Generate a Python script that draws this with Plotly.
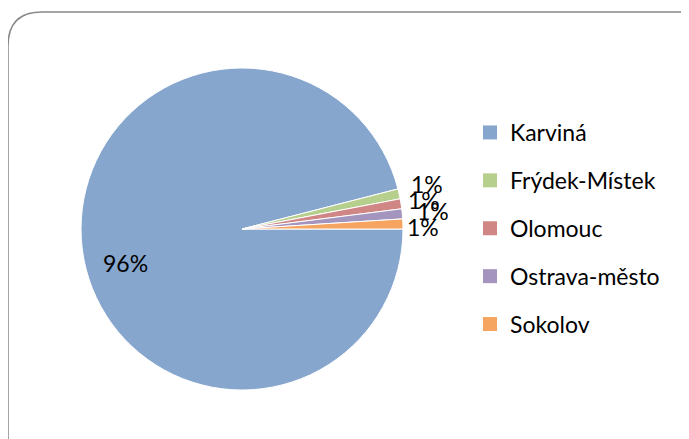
import plotly.graph_objects as go

# data
labels = ['Karviná', 'Frýdek-Místek', 'Olomouc', 'Ostrava-město', 'Sokolov']
values = [96.0, 1.0, 1.0, 1.0, 1.0]
colors = ['#86A6CE', '#B6CF8C', '#D08685', '#A495BE', '#F5A560']

# the page body adds an 8px margin, so work in shifted pixel coords
OFF = 8
W, H = 689 - OFF, 439 - OFF
FONT = 'Lato, Carlito, Calibri, sans-serif'

def px(x):
    return (x - OFF) / W

def py(y):
    return 1 - (y - OFF) / H

total = sum(values)
pct = ['%d%%' % round(v / total * 100) for v in values]

fig = go.Figure()

fig.add_trace(go.Pie(
    labels=labels,
    values=values,
    sort=False,
    direction='clockwise',
    rotation=90,
    marker=dict(colors=colors, line=dict(color='white', width=1)),
    textinfo='none',
    domain=dict(x=[px(81), px(403)], y=[py(390), py(68)]),
    showlegend=False,
    hoverinfo='label+percent',
))

# legend entries (square markers)
for lab, col in zip(labels, colors):
    fig.add_trace(go.Scatter(
        x=[None], y=[None], mode='markers', name=lab,
        legendgroup=lab,
        marker=dict(symbol='square', size=14, color=col),
    ))

# data labels, placed like the original (small ones overlap there too)
label_pos = [(126, 263), (427, 184), (424, 200), (433, 211), (423, 227)]
annotations = []
for (lx, ly), t in zip(label_pos, pct):
    annotations.append(dict(x=px(lx), y=py(ly), xref='paper', yref='paper',
                            text=t, showarrow=False,
                            xanchor='center', yanchor='middle',
                            font=dict(family=FONT, size=23, color='black')))

# rounded chart border
x0, y0, x1, y1, r = 8, 12, 720, 470, 34
path = (f'M {px(x0 + r)} {py(y0)} L {px(x1 - r)} {py(y0)} '
        f'Q {px(x1)} {py(y0)} {px(x1)} {py(y0 + r)} '
        f'L {px(x1)} {py(y1 - r)} Q {px(x1)} {py(y1)} {px(x1 - r)} {py(y1)} '
        f'L {px(x0 + r)} {py(y1)} Q {px(x0)} {py(y1)} {px(x0)} {py(y1 - r)} '
        f'L {px(x0)} {py(y0 + r)} Q {px(x0)} {py(y0)} {px(x0 + r)} {py(y0)} Z')

fig.update_layout(
    width=W, height=H,
    margin=dict(l=0, r=0, t=0, b=0),
    paper_bgcolor='white', plot_bgcolor='white',
    font=dict(family=FONT, size=23, color='black'),
    xaxis=dict(visible=False), yaxis=dict(visible=False),
    legend=dict(x=px(470), y=py(111), xanchor='left', yanchor='top',
                tracegroupgap=15, itemwidth=30,
                font=dict(family=FONT, size=23, color='black')),
    annotations=annotations,
    shapes=[dict(type='path', xref='paper', yref='paper', path=path,
                 line=dict(color='#888888', width=1.5))],
)

fig.write_html('out.html')
